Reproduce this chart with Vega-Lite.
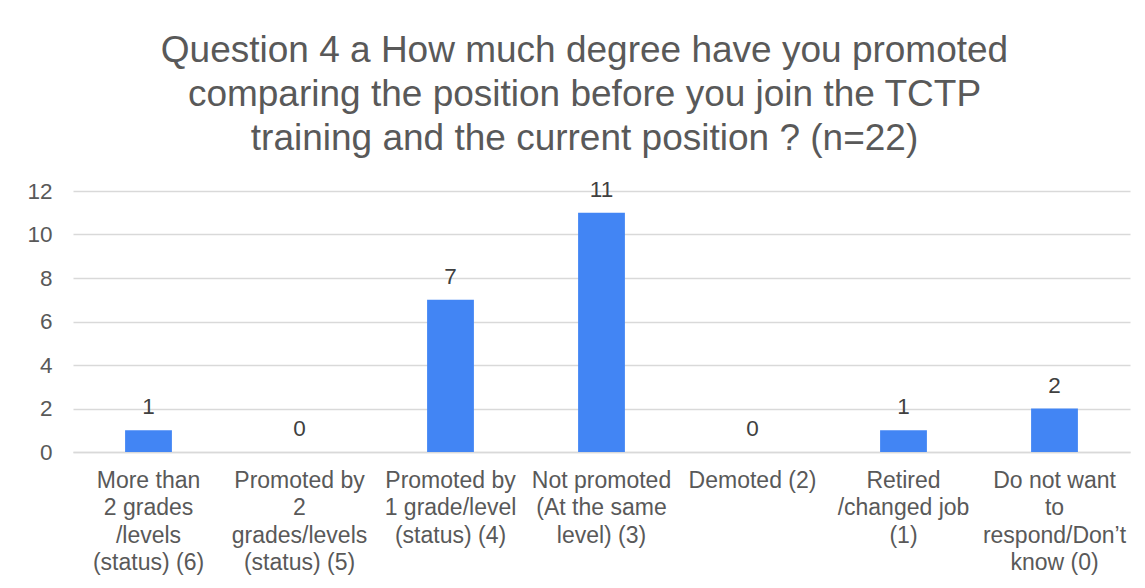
{
  "$schema": "https://vega.github.io/schema/vega-lite/v6.json",
  "autosize": "none",
  "width": 1057,
  "height": 261,
  "padding": {"left": 73, "top": 191, "right": 15, "bottom": 136},
  "background": "white",
  "title": {
    "text": ["Question 4 a How much degree have you promoted", "comparing the position before you join the TCTP", "training and the current position ? (n=22)"],
    "fontSize": 37,
    "font": "Liberation Sans",
    "fontWeight": "normal",
    "color": "#595959",
    "lineHeight": 44,
    "anchor": "middle",
    "dx": -17,
    "offset": 21
  },
  "data": {
    "values": [
      {"category": "More than|2 grades|/levels|(status) (6)", "count": 1},
      {"category": "Promoted by|2|grades/levels|(status) (5)", "count": 0},
      {"category": "Promoted by|1 grade/level|(status) (4)", "count": 7},
      {"category": "Not promoted|(At the same|level) (3)", "count": 11},
      {"category": "Demoted (2)", "count": 0},
      {"category": "Retired|/changed job|(1)", "count": 1},
      {"category": "Do not want|to|respond/Don’t|know (0)", "count": 2}
    ]
  },
  "encoding": {
    "x": {
      "field": "category",
      "type": "nominal",
      "sort": null,
      "scale": {"paddingInner": 0.69, "paddingOuter": 0.345},
      "axis": {
        "title": null,
        "labelAngle": 0,
        "labelExpr": "split(datum.value, '|')",
        "labelFont": "Liberation Sans",
        "labelFontSize": 23,
        "labelColor": "#595959",
        "labelLineHeight": 27.5,
        "labelPadding": 17,
        "labelBaseline": "top",
        "labelLimit": 200,
        "ticks": false,
        "domainColor": "#d9d9d9",
        "domainWidth": 1.5
      }
    },
    "y": {
      "field": "count",
      "type": "quantitative",
      "scale": {"domain": [0, 12]},
      "axis": {
        "title": null,
        "values": [0, 2, 4, 6, 8, 10, 12],
        "labelFont": "Liberation Sans",
        "labelFontSize": 22.5,
        "labelColor": "#595959",
        "labelPadding": 21,
        "ticks": false,
        "domain": false,
        "gridColor": "#d9d9d9",
        "gridWidth": 1.5
      }
    }
  },
  "layer": [
    {"mark": {"type": "bar", "color": "#4285F4"}},
    {
      "mark": {"type": "text", "baseline": "bottom", "dy": -11, "font": "Liberation Sans", "fontSize": 22.5, "color": "#404040"},
      "encoding": {"text": {"field": "count", "type": "quantitative"}}
    }
  ],
  "config": {"view": {"stroke": null}}
}
